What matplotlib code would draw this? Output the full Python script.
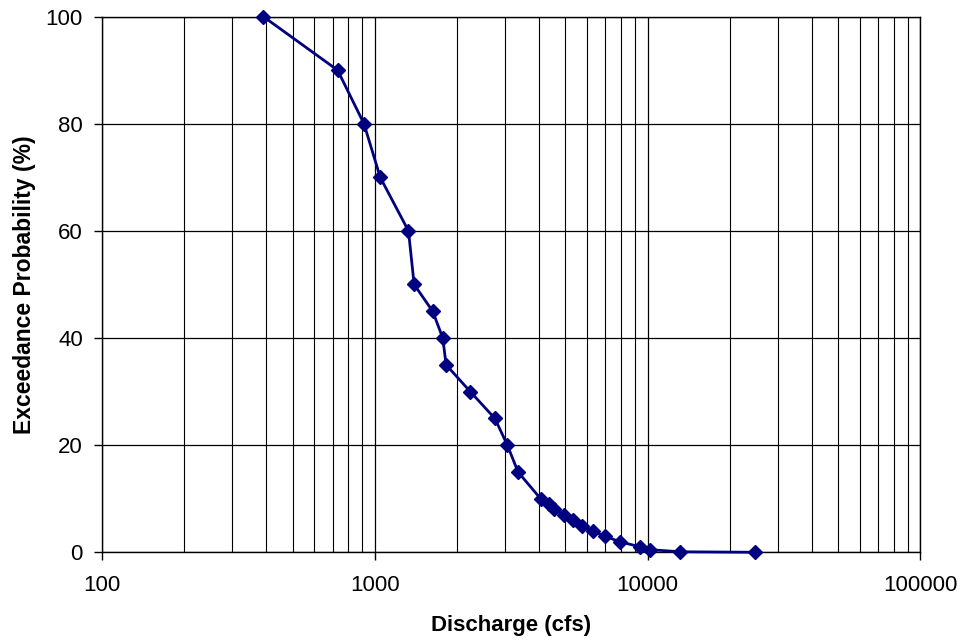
import matplotlib
matplotlib.use('Agg')
import matplotlib.pyplot as plt
from matplotlib.ticker import LogLocator, FixedLocator, NullFormatter

plt.rcParams['font.family'] = ['Liberation Sans', 'DejaVu Sans']

# flow duration data
discharge = [390, 730, 912, 1046, 1328, 1393, 1629, 1774, 1825, 2238, 2754,
             3062, 3350, 4055, 4350, 4535, 4943, 5335, 5726, 6310, 6966,
             7903, 9402, 10184, 13190, 24890]
exceedance = [100, 90, 80, 70, 60, 50, 45, 40, 35, 30, 25,
              20, 15, 10, 9, 8, 7, 6, 5, 4, 3,
              2, 1, 0.5, 0.1, 0.01]

fig = plt.figure(figsize=(9.63, 6.4), dpi=100)
ax = fig.add_axes([0.1062, 0.137, 0.8493, 0.837])

ax.plot(discharge, exceedance, color='#000080', linewidth=2,
        marker='D', markersize=7, zorder=3, clip_on=False)

ax.set_xscale('log')
ax.set_xlim(100, 100000)
ax.set_ylim(0, 100)

ax.xaxis.set_major_locator(FixedLocator([100, 1000, 10000, 100000]))
ax.set_xticklabels(['100', '1000', '10000', '100000'])
ax.xaxis.set_minor_locator(LogLocator(base=10, subs=range(2, 10), numticks=20))
ax.xaxis.set_minor_formatter(NullFormatter())
ax.set_yticks([0, 20, 40, 60, 80, 100])

ax.grid(True, which='major', color='black', linewidth=0.9)
ax.grid(True, which='minor', axis='x', color='black', linewidth=0.8)
ax.tick_params(which='major', direction='out', length=6, width=1,
               labelsize=16, top=False, right=False, pad=8)
ax.tick_params(which='minor', length=0)
ax.tick_params(axis='x', pad=10)

for s in ax.spines.values():
    s.set_linewidth(1)
    s.set_color('black')

ax.set_xlabel('Discharge (cfs)', fontsize=16, fontweight='bold', labelpad=14)
ax.set_ylabel('Exceedance Probability (%)', fontsize=16.5, fontweight='bold', labelpad=7)

fig.savefig('out.png', dpi=100)
